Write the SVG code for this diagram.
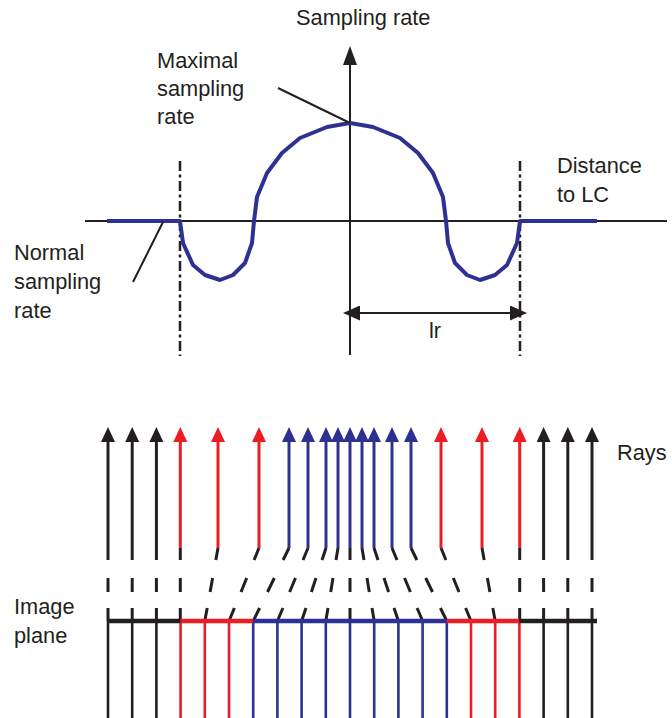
<svg xmlns="http://www.w3.org/2000/svg" width="672" height="718" viewBox="0 0 672 718">
<style>
.t{font-family:"Liberation Sans",Arial,Helvetica,sans-serif;font-size:21.8px;fill:#231f20}
.ax{stroke:#231f20;stroke-width:2;fill:none}
.dd{stroke:#231f20;stroke-width:2.5;stroke-dasharray:10 3.5 3 3.5;fill:none}
.curve{stroke:#2e3192;stroke-width:4;fill:none;stroke-linejoin:round}
.k{stroke:#231f20}
.r{stroke:#ed1c24}
.b{stroke:#2e3192}
.ray{stroke-width:3;fill:none}
.dash{stroke:#231f20;stroke-width:3;fill:none}
.pix{stroke-width:2.6;fill:none}
.plane{stroke-width:4.5;fill:none}
</style>
<defs>
<marker id="ak" viewBox="0 0 15 14" refX="6" refY="7" markerWidth="15" markerHeight="14" markerUnits="userSpaceOnUse" orient="auto"><path d="M0,0 L15,7 L0,14 z" fill="#231f20"/></marker>
<marker id="ar" viewBox="0 0 15 14" refX="6" refY="7" markerWidth="15" markerHeight="14" markerUnits="userSpaceOnUse" orient="auto"><path d="M0,0 L15,7 L0,14 z" fill="#ed1c24"/></marker>
<marker id="ab" viewBox="0 0 15 14" refX="6" refY="7" markerWidth="15" markerHeight="14" markerUnits="userSpaceOnUse" orient="auto"><path d="M0,0 L15,7 L0,14 z" fill="#2e3192"/></marker>
<marker id="axh" viewBox="0 0 19 14" refX="8" refY="7" markerWidth="19" markerHeight="14" markerUnits="userSpaceOnUse" orient="auto"><path d="M0,0 L19,7 L0,14 z" fill="#231f20"/></marker>
<marker id="lrh" viewBox="0 0 17 15" refX="8" refY="7.5" markerWidth="17" markerHeight="15" markerUnits="userSpaceOnUse" orient="auto-start-reverse"><path d="M0,0 L17,7.5 L0,15 z" fill="#231f20"/></marker>
</defs>

<g id="graph">
<line class="ax" x1="85" y1="221" x2="667" y2="221"/>
<line class="ax" x1="350" y1="355" x2="350" y2="57" marker-end="url(#axh)"/>
<line class="dd" x1="180" y1="161" x2="180" y2="356"/>
<line class="dd" x1="520" y1="161" x2="520" y2="356"/>
<path id="sampling-curve" class="curve" d="M107,221 L180,221 L183,243 L193,265 L205,275 L220,280 L233,275 L245,263 L252,243 L254,221 L257,197 L267,173 L282,153 L300,138 L327,127 L350,123 L373,127 L400,138 L418,153 L433,173 L443,197 L446,221 L448,243 L455,263 L467,275 L480,280 L495,275 L507,265 L517,243 L520,221 L597,221"/>
</g>

<g id="labels">
<text class="t" x="296" y="25">Sampling rate</text>
<text class="t" x="157" y="68">Maximal</text>
<text class="t" x="157" y="96">sampling</text>
<text class="t" x="157" y="124">rate</text>
<text class="t" x="557" y="173">Distance</text>
<text class="t" x="557" y="202">to LC</text>
<text class="t" x="14" y="260">Normal</text>
<text class="t" x="14" y="289">sampling</text>
<text class="t" x="14" y="318">rate</text>
<text class="t" x="429" y="338">lr</text>
<text class="t" x="617" y="460">Rays</text>
<text class="t" x="14" y="614">Image</text>
<text class="t" x="14" y="643">plane</text>
</g>

<g id="connectors">
<line class="ax" x1="278" y1="88" x2="350" y2="123"/>
<line class="ax" x1="133" y1="282" x2="163" y2="222"/>
<line class="ax" x1="352" y1="313" x2="518" y2="313" marker-start="url(#lrh)" marker-end="url(#lrh)"/>
</g>

<g id="rays">
<line class="ray k" x1="108" y1="560" x2="108" y2="436" marker-end="url(#ak)"/>
<line class="ray k" x1="132.2" y1="560" x2="132.2" y2="436" marker-end="url(#ak)"/>
<line class="ray k" x1="156.4" y1="560" x2="156.4" y2="436" marker-end="url(#ak)"/>
<line class="ray r" x1="180.3" y1="548" x2="180.3" y2="436" marker-end="url(#ar)"/>
<line class="ray r" x1="218" y1="548" x2="218" y2="436" marker-end="url(#ar)"/>
<line class="ray r" x1="259" y1="548" x2="259" y2="436" marker-end="url(#ar)"/>
<line class="ray b" x1="289" y1="548" x2="289" y2="436" marker-end="url(#ab)"/>
<line class="ray b" x1="308" y1="548" x2="308" y2="436" marker-end="url(#ab)"/>
<line class="ray b" x1="326" y1="548" x2="326" y2="436" marker-end="url(#ab)"/>
<line class="ray b" x1="338" y1="548" x2="338" y2="436" marker-end="url(#ab)"/>
<line class="ray b" x1="350" y1="548" x2="350" y2="436" marker-end="url(#ab)"/>
<line class="ray b" x1="362" y1="548" x2="362" y2="436" marker-end="url(#ab)"/>
<line class="ray b" x1="374" y1="548" x2="374" y2="436" marker-end="url(#ab)"/>
<line class="ray b" x1="392" y1="548" x2="392" y2="436" marker-end="url(#ab)"/>
<line class="ray b" x1="411" y1="548" x2="411" y2="436" marker-end="url(#ab)"/>
<line class="ray r" x1="441" y1="548" x2="441" y2="436" marker-end="url(#ar)"/>
<line class="ray r" x1="482" y1="548" x2="482" y2="436" marker-end="url(#ar)"/>
<line class="ray r" x1="519.7" y1="548" x2="519.7" y2="436" marker-end="url(#ar)"/>
<line class="ray k" x1="543.6" y1="560" x2="543.6" y2="436" marker-end="url(#ak)"/>
<line class="ray k" x1="567.8" y1="560" x2="567.8" y2="436" marker-end="url(#ak)"/>
<line class="ray k" x1="592" y1="560" x2="592" y2="436" marker-end="url(#ak)"/>
</g>

<g id="projections">
<path class="dash" d="M108,578V592M108,608V621 M132.2,578V592M132.2,608V621 M156.4,578V592M156.4,608V621"/>
<path class="dash" d="M180.3,548V560M180.3,578V592M180.3,608V621"/>
<path class="dash" d="M218,548L215.8,560M212.6,578L210.1,592M207.2,608L204.8,621"/>
<path class="dash" d="M259,548L254.1,560M246.7,578L241,592M234.4,608L229,621"/>
<path class="dash" d="M289,548L283.1,560M274.3,578L267.5,592M259.6,608L253.2,621"/>
<path class="dash" d="M308,548L303,560M295.5,578L289.6,592M282.9,608L277.4,621"/>
<path class="dash" d="M326,548L322,560M316,578L311.4,592M306,608L301.6,621"/>
<path class="dash" d="M338,548L336,560M333,578L330.7,592M328,608L325.8,621"/>
<path class="dash" d="M350,548V560M350,578V592M350,608V621"/>
<path class="dash" d="M362,548L364,560M367,578L369.3,592M372,608L374.2,621"/>
<path class="dash" d="M374,548L378,560M384,578L388.6,592M394,608L398.4,621"/>
<path class="dash" d="M392,548L397,560M404.5,578L410.4,592M417.1,608L422.6,621"/>
<path class="dash" d="M411,548L416.9,560M425.7,578L432.5,592M440.4,608L446.8,621"/>
<path class="dash" d="M441,548L445.9,560M453.3,578L459,592M465.6,608L471,621"/>
<path class="dash" d="M482,548L484.2,560M487.4,578L489.9,592M492.8,608L495.2,621"/>
<path class="dash" d="M519.7,548V560M519.7,578V592M519.7,608V621"/>
<path class="dash" d="M543.6,578V592M543.6,608V621 M567.8,578V592M567.8,608V621 M592,578V592M592,608V621"/>
</g>

<g id="image-plane">
<path class="pix k" d="M108,621V718M132.2,621V718M156.4,621V718M543.6,621V718M567.8,621V718M592,621V718"/>
<path class="pix r" d="M180.6,621V718M204.8,621V718M229,621V718M471,621V718M495.2,621V718M519.4,621V718"/>
<path class="pix b" d="M253.2,621V718M277.4,621V718M301.6,621V718M325.8,621V718M350,621V718M374.2,621V718M398.4,621V718M422.6,621V718M446.8,621V718"/>
<line class="plane k" x1="107" y1="621" x2="180.6" y2="621"/>
<line class="plane r" x1="180.6" y1="621" x2="253.2" y2="621"/>
<line class="plane b" x1="253.2" y1="621" x2="446.8" y2="621"/>
<line class="plane r" x1="446.8" y1="621" x2="519.4" y2="621"/>
<line class="plane k" x1="519.4" y1="621" x2="597" y2="621"/>
</g>
</svg>
